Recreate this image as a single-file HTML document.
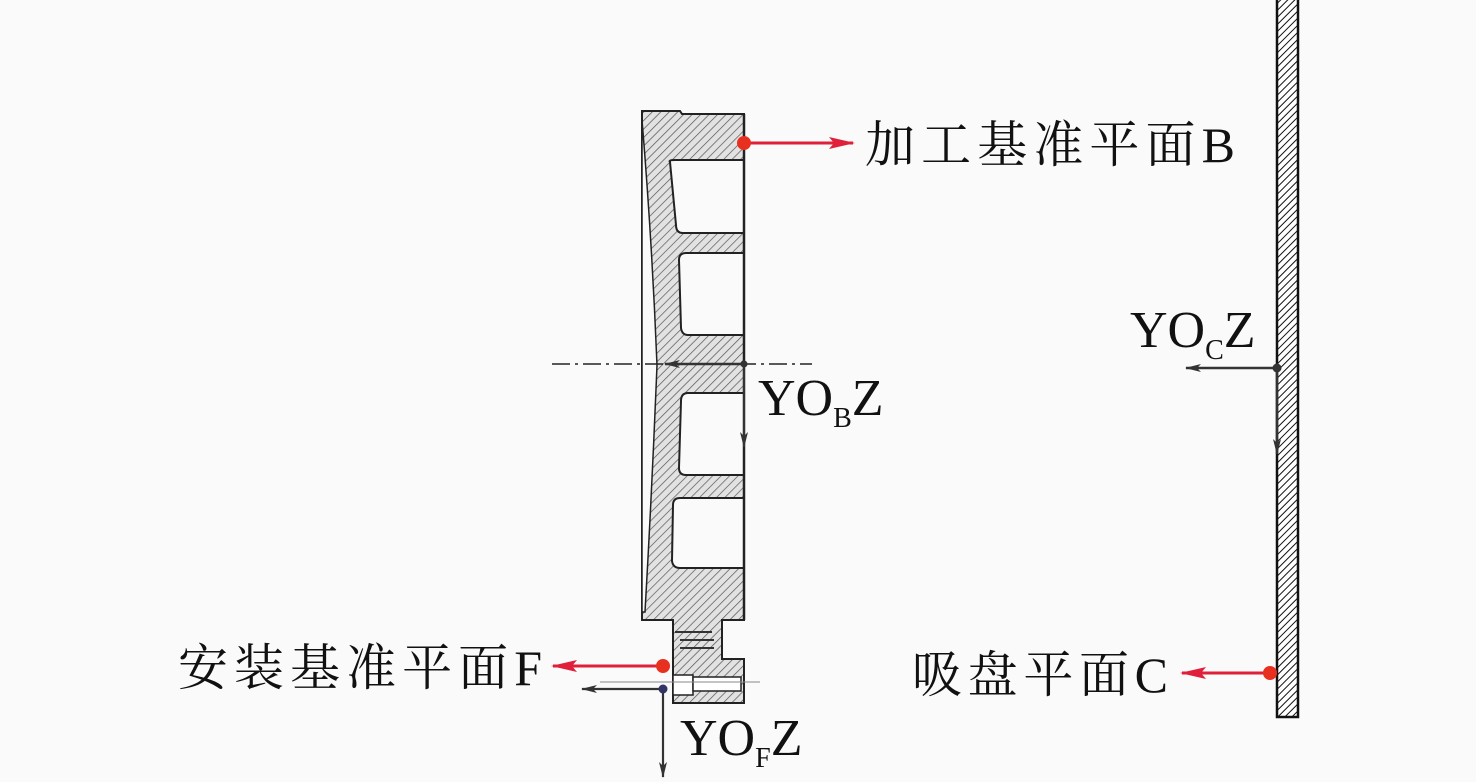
<!DOCTYPE html>
<html><head><meta charset="utf-8"><style>
html,body{margin:0;padding:0;background:#fafafa;}
svg{display:block;}
text{font-family:"Liberation Serif","Noto Serif CJK SC",serif;fill:#111;}
</style></head><body>
<svg width="1476" height="782" viewBox="0 0 1476 782" xmlns="http://www.w3.org/2000/svg">
<defs>
<pattern id="h" patternUnits="userSpaceOnUse" width="6" height="6" patternTransform="rotate(45)">
<rect width="6" height="6" fill="#e2e2e2"/>
<line x1="0" y1="0" x2="0" y2="6" stroke="#555" stroke-width="1.4"/>
</pattern>
<pattern id="h2" patternUnits="userSpaceOnUse" width="5" height="5" patternTransform="rotate(45)">
<rect width="5" height="5" fill="#fff"/>
<line x1="0" y1="0" x2="0" y2="5" stroke="#111" stroke-width="2"/>
</pattern>
<marker id="ab" markerWidth="16" markerHeight="10" refX="15" refY="5" orient="auto" markerUnits="userSpaceOnUse"><path d="M0,1 L16,5 L0,9 L4,5 Z" fill="#333"/></marker>
<marker id="ar" markerWidth="26" markerHeight="14" refX="24" refY="7" orient="auto" markerUnits="userSpaceOnUse"><path d="M0,1 L26,7 L0,13 L5,7 Z" fill="#e0203a"/></marker>
</defs>
<!-- part -->
<path d="M642,111 L680,111 L682,114 L744,114 L744,620 L722,620 L722,659 L744,659 L744,703 L673,703 L673,620 L642,620 Z" fill="url(#h)" stroke="#222" stroke-width="2"/>
<path d="M642,120 Q652,240 657,365 Q652,490 645,612 L642,612 L642,120 Z" fill="#fafafa" stroke="#222" stroke-width="1.5"/>
<path d="M670,162 Q668,160 675,160 L744,160 L744,233 L683,233 Q676,233 676,225 Z" fill="#fafafa" stroke="#222" stroke-width="2"/>
<path d="M679,260 Q679,253 686,253 L744,253 L744,335 L688,335 Q682,335 681,328 Z" fill="#fafafa" stroke="#222" stroke-width="2"/>
<path d="M681,401 Q681,393 688,393 L744,393 L744,475 L686,475 Q679,475 679,468 Z" fill="#fafafa" stroke="#222" stroke-width="2"/>
<path d="M673,505 Q673,498 680,498 L744,498 L744,568 L680,568 Q673,568 672,561 Z" fill="#fafafa" stroke="#222" stroke-width="2"/>
<line x1="744" y1="114" x2="744" y2="620" stroke="#222" stroke-width="2.5"/>
<!-- bottom details -->
<path d="M675,632 L712,632 M680,640 L714,640 M680,648 L714,648" stroke="#333" stroke-width="2"/>
<rect x="673" y="675" width="20" height="20" fill="#fff" stroke="#222" stroke-width="1.5"/>
<rect x="693" y="677" width="48" height="14" fill="#fff" stroke="#222" stroke-width="1.5"/>
<line x1="600" y1="682" x2="760" y2="682" stroke="#888" stroke-width="1"/>
<!-- center dash-dot -->
<line x1="552" y1="364" x2="812" y2="364" stroke="#222" stroke-width="1.5" stroke-dasharray="18,5,3,5"/>
<line x1="744" y1="364" x2="665" y2="364" stroke="#333" stroke-width="2.5" marker-end="url(#ab)"/>
<line x1="744" y1="364" x2="744" y2="447" stroke="#333" stroke-width="2" marker-end="url(#ab)"/>
<circle cx="744" cy="364" r="3.5" fill="#333"/>
<!-- red top arrow -->
<line x1="744" y1="143" x2="853" y2="143" stroke="#e0203a" stroke-width="3" marker-end="url(#ar)"/>
<circle cx="744" cy="143" r="7" fill="#e83020"/>
<!-- bottom arrows -->
<line x1="663" y1="666" x2="553" y2="666" stroke="#e0203a" stroke-width="3" marker-end="url(#ar)"/>
<circle cx="663" cy="666" r="7" fill="#e83020"/>
<line x1="663" y1="689" x2="582" y2="689" stroke="#333" stroke-width="2.2" marker-end="url(#ab)"/>
<line x1="663" y1="689" x2="663" y2="777" stroke="#333" stroke-width="2.2" marker-end="url(#ab)"/>
<circle cx="663" cy="689" r="4.5" fill="#336"/>
<!-- right wall -->
<rect x="1277" y="-2" width="21" height="719" fill="url(#h2)" stroke="#111" stroke-width="2.5"/>
<line x1="1277" y1="368" x2="1186" y2="368" stroke="#333" stroke-width="2.5" marker-end="url(#ab)"/>
<line x1="1277" y1="368" x2="1277" y2="454" stroke="#333" stroke-width="2.5" marker-end="url(#ab)"/>
<circle cx="1277" cy="368" r="4.5" fill="#333"/>
<line x1="1270" y1="673" x2="1182" y2="673" stroke="#e0203a" stroke-width="3" marker-end="url(#ar)"/>
<circle cx="1270" cy="673" r="7" fill="#e83020"/>
<!-- labels -->
<text x="865" y="162" font-size="50" textLength="370" lengthAdjust="spacing">加工基准平面B</text>
<text x="178" y="685" font-size="50" textLength="364" lengthAdjust="spacing">安装基准平面F</text>
<text x="912" y="692" font-size="50" textLength="256" lengthAdjust="spacing">吸盘平面C</text>
<text x="758" y="415" font-size="52">YO<tspan font-size="28" dy="12">B</tspan><tspan dy="-12">Z</tspan></text>
<text x="680" y="755" font-size="52">YO<tspan font-size="28" dy="12">F</tspan><tspan dy="-12">Z</tspan></text>
<text x="1130" y="347" font-size="52">YO<tspan font-size="28" dy="12">C</tspan><tspan dy="-12">Z</tspan></text>
</svg>
</body></html>
